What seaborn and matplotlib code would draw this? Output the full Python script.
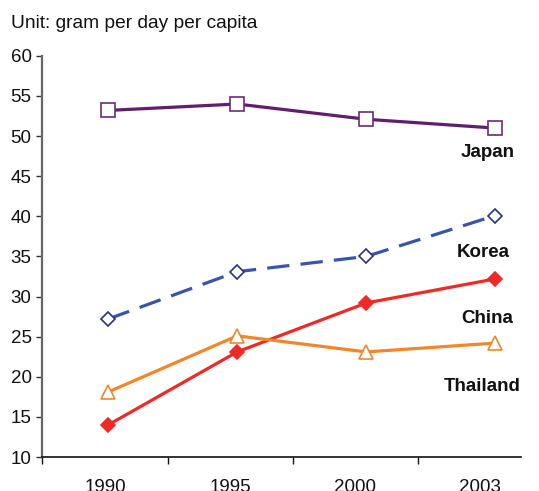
import matplotlib
matplotlib.use("Agg")
import matplotlib.pyplot as plt
import seaborn as sns
import pandas as pd

years = ["1990", "1995", "2000", "2003"]
japan = [53.2, 54.0, 52.1, 51.0]
korea = [27.2, 33.1, 35.0, 40.1]
china = [14.0, 23.1, 29.2, 32.2]
thailand = [18.1, 25.1, 23.1, 24.2]

# (x, y) placement of each country name in data units
label_pos = {"Japan": (2.94, 47.9), "Korea": (2.91, 35.5),
             "China": (2.94, 27.3), "Thailand": (2.90, 18.8)}

sns.set_theme(style="white")
plt.rcParams["font.family"] = ["Liberation Sans", "DejaVu Sans"]

series = [
    # name, values, line colour, marker, face, edge, marker size, dashes
    ("Japan", japan, "#5f1f6c", "s", "white", "#6b2a79", 9.5, None),
    ("Korea", korea, "#3a55a8", "D", "white", "#2b2f86", 7.5, (7.0, 3.5)),
    ("China", china, "#ee2a26", "D", "#ee2a26", "#ee2a26", 7.5, None),
    ("Thailand", thailand, "#f28629", "^", "white", "#f28629", 10.5, None),
]

fig = plt.figure(figsize=(5.39, 4.91), dpi=100)
ax = fig.add_axes([0.078, 0.0692, 0.889, 0.817])

xs = list(range(len(years)))
for name, vals, col, mk, face, edge, ms, dash in series:
    df = pd.DataFrame({"x": xs, "y": vals})
    sns.lineplot(data=df, x="x", y="y", ax=ax, color=col, linewidth=2.3,
                 marker=mk, markersize=ms, markerfacecolor=face,
                 markeredgecolor=edge, markeredgewidth=1.2, zorder=3)
    if dash is not None:
        ax.lines[-1].set_dashes(dash)
        ax.lines[-1].set_dash_capstyle("butt")
    lx, ly = label_pos[name]
    ax.text(lx, ly, name, ha="center", va="center",
            fontsize=13.5, fontweight="bold", color="#111111")

ax.set_xlim(-0.512, 3.201)
ax.set_ylim(10, 60)
ax.set_yticks(range(10, 61, 5))
ax.tick_params(axis="y", labelsize=13.5, length=4.5, width=1, color="#333333",
               direction="out", left=True, pad=3, labelcolor="#111111")

# Category boundary ticks on the x axis, labels centred between them
ax.set_xticks([-0.512, 0.465, 1.434, 2.403])
ax.set_xticklabels([])
ax.set_xticks([-0.023, 0.946, 1.915, 2.884], minor=True)
ax.set_xticklabels(years, minor=True)
ax.tick_params(axis="x", which="major", length=5, width=1, color="#111111",
               direction="out", bottom=True)
ax.tick_params(axis="x", which="minor", length=0, labelsize=13.5, pad=16,
               labelcolor="#111111", bottom=True)

for s in ["top", "right"]:
    ax.spines[s].set_visible(False)
ax.spines["left"].set_color("#666666")
ax.spines["left"].set_linewidth(1.6)
ax.spines["bottom"].set_color("#111111")
ax.spines["bottom"].set_linewidth(1.2)
ax.set_xlabel("")
ax.set_ylabel("")
ax.grid(False)

fig.text(0.02, 0.952, "Unit: gram per day per capita", fontsize=13.8,
         color="#111111", ha="left", va="center")

fig.savefig("out.png", dpi=100)
